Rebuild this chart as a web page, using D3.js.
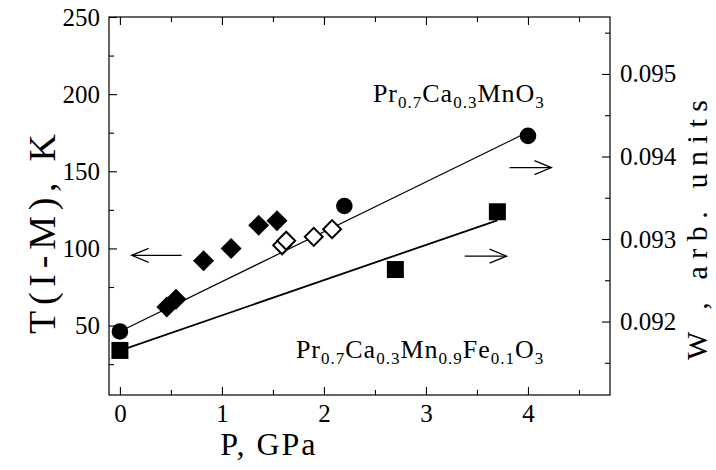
<!DOCTYPE html>
<html><head><meta charset="utf-8">
<script src="https://cdn.jsdelivr.net/npm/d3@7"></script>
<style>body{margin:0;background:#fff}</style>
</head><body>
<svg id="c" width="716" height="470"></svg>
<script>
// ---- data ----
const circleP = [0, 2.2, 4.0];
const circleW = [0.09188, 0.09340, 0.09425];
const squareP = [0, 2.7, 3.7];
const squareW = [0.09165, 0.09263, 0.09333];
const filledDiamondP = [0.46, 0.55, 0.82, 1.09, 1.36, 1.54];
const filledDiamondT = [62, 67, 92, 100, 115, 118];
const openDiamondP = [1.59, 1.63, 1.90, 2.08];
const openDiamondT = [102, 105, 107.5, 112.5];
const fitUpperP = [0, 4.0];
const fitUpperW = [0.091879, 0.094296];
const fitLowerP = [0, 3.70];
const fitLowerW = [0.091648, 0.093227];
const xTicks = [0, 1, 2, 3, 4];
const xMinorTicks = [0.5, 1.5, 2.5, 3.5, 4.5];
const tTicks = [50, 100, 150, 200, 250];
const tMinorTicks = [25, 75, 125, 175, 225];
const wTicks = [0.092, 0.093, 0.094, 0.095];
const wMinorTicks = [0.0915, 0.0925, 0.0935, 0.0945, 0.0955];

const FONT = "'Liberation Serif','Times New Roman',serif";
const svg = d3.select("#c");
const L = 109, R = 610, T = 17, B = 395;

const x = d3.scaleLinear().domain([-0.107, 4.804]).range([L, R]);
const yT = d3.scaleLinear().domain([5, 250]).range([B, T]);
const yW = d3.scaleLinear().domain([0.09111, 0.09569]).range([B, T]);

function styleAxis(g, size) {
  g.select(".domain").remove();
  g.selectAll("line").attr("stroke", "#000").attr("stroke-width", 1.1);
  g.attr("font-family", FONT).attr("font-size", size);
  g.selectAll("text").attr("fill", "#000");
}

// bottom
svg.append("g").attr("transform", `translate(0,${B})`)
  .call(d3.axisBottom(x).tickValues(xTicks).tickSize(-8).tickPadding(9).tickFormat(d3.format("d")))
  .call(g => styleAxis(g, 25));
svg.append("g").attr("transform", `translate(0,${B})`)
  .call(d3.axisBottom(x).tickValues(xMinorTicks).tickSize(-5).tickFormat(""))
  .call(g => styleAxis(g, 25));
// top
svg.append("g").attr("transform", `translate(0,${T})`)
  .call(d3.axisTop(x).tickValues(xTicks).tickSize(-8).tickFormat(""))
  .call(g => styleAxis(g, 25));
svg.append("g").attr("transform", `translate(0,${T})`)
  .call(d3.axisTop(x).tickValues(xMinorTicks).tickSize(-5).tickFormat(""))
  .call(g => styleAxis(g, 25));
// left
svg.append("g").attr("transform", `translate(${L},0)`)
  .call(d3.axisLeft(yT).tickValues(tTicks).tickSize(-8).tickPadding(9).tickFormat(d3.format("d")))
  .call(g => styleAxis(g, 25));
svg.append("g").attr("transform", `translate(${L},0)`)
  .call(d3.axisLeft(yT).tickValues(tMinorTicks).tickSize(-5).tickFormat(""))
  .call(g => styleAxis(g, 25));
// right
svg.append("g").attr("transform", `translate(${R},0)`)
  .call(d3.axisRight(yW).tickValues(wTicks).tickSize(-8).tickPadding(10).tickFormat(d3.format(".3f")))
  .call(g => styleAxis(g, 25));
svg.append("g").attr("transform", `translate(${R},0)`)
  .call(d3.axisRight(yW).tickValues(wMinorTicks).tickSize(-5).tickFormat(""))
  .call(g => styleAxis(g, 25));

// frame
svg.append("rect").attr("x", L).attr("y", T).attr("width", R - L).attr("height", B - T)
  .attr("fill", "none").attr("stroke", "#000").attr("stroke-width", 1.2);

// axis titles
svg.append("text").attr("x", x(1.45) + 1).attr("y", 455).attr("text-anchor", "middle")
  .attr("font-family", FONT).attr("font-size", 32).attr("letter-spacing", 2)
  .text("P, GPa");
svg.append("text").attr("transform", `translate(55,${(135 + 333) / 2}) rotate(-90)`)
  .attr("text-anchor", "middle").attr("font-family", FONT).attr("font-size", 38)
  .attr("textLength", 200).attr("lengthAdjust", "spacing")
  .text("T(I-M), K");
svg.append("text").attr("transform", `translate(707,${(100 + 360) / 2}) rotate(-90)`)
  .attr("text-anchor", "middle").attr("font-family", FONT).attr("font-size", 30)
  .attr("textLength", 260).attr("lengthAdjust", "spacing")
  .text("W , arb. units");

// fit lines
const line = d3.line().x(d => x(d[0])).y(d => yW(d[1]));
svg.append("path").datum(fitUpperP.map((p, i) => [p, fitUpperW[i]]))
  .attr("d", line).attr("fill", "none").attr("stroke", "#000").attr("stroke-width", 1.2);
svg.append("path").datum(fitLowerP.map((p, i) => [p, fitLowerW[i]]))
  .attr("d", line).attr("fill", "none").attr("stroke", "#000").attr("stroke-width", 1.8);

// markers
svg.append("g").selectAll("circle").data(circleP.map((p, i) => [p, circleW[i]]))
  .join("circle").attr("cx", d => x(d[0])).attr("cy", d => yW(d[1])).attr("r", 8.3).attr("fill", "#000");
const sq = d3.symbol().type(d3.symbolSquare).size(17 * 17);
svg.append("g").selectAll("path").data(squareP.map((p, i) => [p, squareW[i]]))
  .join("path").attr("d", sq).attr("transform", d => `translate(${x(d[0])},${yW(d[1])})`).attr("fill", "#000");
const dFilled = d3.symbol().type(d3.symbolSquare).size(220);
svg.append("g").selectAll("path").data(filledDiamondP.map((p, i) => [p, filledDiamondT[i]]))
  .join("path").attr("d", dFilled).attr("transform", d => `translate(${x(d[0])},${yT(d[1])}) rotate(45)`).attr("fill", "#000");
const dOpen = d3.symbol().type(d3.symbolSquare).size(160);
svg.append("g").selectAll("path").data(openDiamondP.map((p, i) => [p, openDiamondT[i]]))
  .join("path").attr("d", dOpen).attr("transform", d => `translate(${x(d[0])},${yT(d[1])}) rotate(45)`)
  .attr("fill", "#fff").attr("stroke", "#000").attr("stroke-width", 2);

// arrows (data coordinates on the T axis)
const arrows = [
  { from: 0.605, to: 0.115, t: 95.5 },
  { from: 3.82, to: 4.23, t: 152.4 },
  { from: 3.38, to: 3.79, t: 95 }
];
arrows.forEach(a => {
  const x0 = x(a.from), x1 = x(a.to), yy = yT(a.t), dir = Math.sign(x1 - x0);
  const g = svg.append("g").attr("stroke", "#000").attr("stroke-width", 1.2).attr("fill", "none");
  g.append("line").attr("x1", x0).attr("x2", x1).attr("y1", yy).attr("y2", yy);
  g.append("path").attr("d", `M${x1 - dir * 17},${yy - 7}L${x1},${yy}L${x1 - dir * 17},${yy + 7}`);
});

// formula labels
function formula(px, t, parts) {
  const txt = svg.append("text").attr("x", x(px)).attr("y", yT(t))
    .attr("font-family", FONT).attr("font-size", 26).attr("letter-spacing", 1.0);
  parts.forEach(p => {
    if (p.sub) txt.append("tspan").attr("font-size", 17).attr("dy", 6).text(p.s);
    else txt.append("tspan").attr("dy", p.after ? -6 : 0).text(p.s);
  });
}
formula(2.48, 195, [{s:"Pr"},{s:"0.7",sub:1},{s:"Ca",after:1},{s:"0.3",sub:1},{s:"MnO",after:1},{s:"3",sub:1}]);
formula(1.725, 29.2, [{s:"Pr"},{s:"0.7",sub:1},{s:"Ca",after:1},{s:"0.3",sub:1},{s:"Mn",after:1},{s:"0.9",sub:1},{s:"Fe",after:1},{s:"0.1",sub:1},{s:"O",after:1},{s:"3",sub:1}]);
</script>
</body></html>
